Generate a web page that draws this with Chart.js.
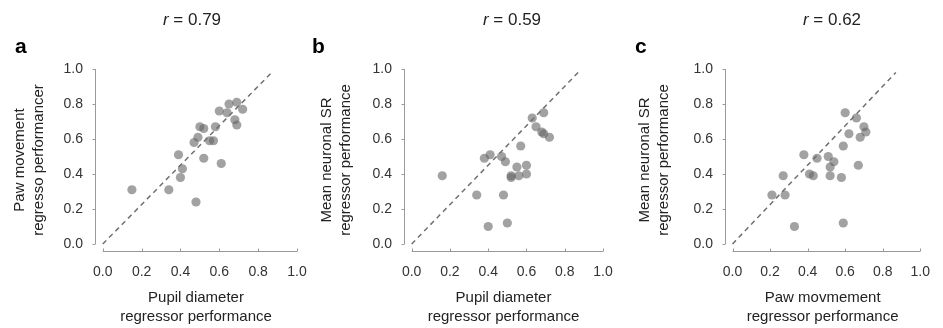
<!DOCTYPE html>
<html>
<head>
<meta charset="utf-8">
<script src="https://cdn.jsdelivr.net/npm/chart.js@4.4.1/dist/chart.umd.min.js"></script>
<style>
    html, body { margin: 0; padding: 0; background: #fff; }
    #wrap { position: relative; width: 943px; height: 328px; }
    #wrap canvas { position: absolute; left: 0; top: 0; }
</style>
</head>
<body>
<div id="wrap">
    <canvas id="chartA" width="943" height="328"></canvas>
    <canvas id="chartB" width="943" height="328"></canvas>
    <canvas id="chartC" width="943" height="328"></canvas>
</div>
<script>
// Panel a: pupil diameter vs paw movement
const pupilA = [0.15, 0.34, 0.48, 0.39, 0.41, 0.40, 0.47, 0.49, 0.50, 0.52, 0.52, 0.55, 0.57, 0.58, 0.61, 0.60, 0.64, 0.65, 0.69, 0.68, 0.69, 0.72];
const pawA   = [0.31, 0.31, 0.24, 0.51, 0.43, 0.38, 0.58, 0.61, 0.67, 0.66, 0.49, 0.59, 0.59, 0.67, 0.46, 0.76, 0.75, 0.80, 0.81, 0.71, 0.68, 0.77];

// Panel b: pupil diameter vs mean neuronal SR
const pupilB = [0.16, 0.34, 0.40, 0.38, 0.41, 0.47, 0.49, 0.48, 0.50, 0.52, 0.52, 0.55, 0.56, 0.57, 0.60, 0.60, 0.63, 0.65, 0.68, 0.69, 0.69, 0.72];
const srB    = [0.39, 0.28, 0.10, 0.49, 0.51, 0.50, 0.47, 0.28, 0.12, 0.39, 0.38, 0.44, 0.39, 0.56, 0.45, 0.40, 0.72, 0.67, 0.64, 0.63, 0.75, 0.61];

// Panel c: paw movement vs mean neuronal SR
const pawC = [0.21, 0.27, 0.28, 0.33, 0.38, 0.41, 0.43, 0.45, 0.51, 0.52, 0.54, 0.52, 0.58, 0.59, 0.59, 0.60, 0.62, 0.66, 0.67, 0.68, 0.70, 0.71];
const srC  = [0.28, 0.39, 0.28, 0.10, 0.51, 0.40, 0.39, 0.49, 0.50, 0.44, 0.47, 0.39, 0.38, 0.56, 0.12, 0.75, 0.63, 0.72, 0.45, 0.61, 0.67, 0.64];

// Dashed reference line (same in every panel)
const diagX = [0, 0.87];
const diagY = [0, 0.98];

const tickValues = [0, 0.2, 0.4, 0.6, 0.8, 1.0];
const panelLetters = ['a', 'b', 'c'];
const rValues = ['0.79', '0.59', '0.62'];

function toPoints(xs, ys) {
    return xs.map((x, i) => ({ x: x, y: ys[i] }));
}

// Axis lines only span 0..1, with small tick marks, like the original
const axisLines = {
    id: 'axisLines',
    afterDraw(chart, args, opts) {
        const ctx = chart.ctx;
        const xs = chart.scales.x;
        const ys = chart.scales.y;
        const left = chart.chartArea.left;
        const bottom = chart.chartArea.bottom;
        ctx.save();
        ctx.strokeStyle = '#9a9a9a';
        ctx.lineWidth = 1;
        ctx.beginPath();
        ctx.moveTo(left + 0.5, ys.getPixelForValue(0));
        ctx.lineTo(left + 0.5, ys.getPixelForValue(1));
        tickValues.forEach(v => {
            const py = Math.round(ys.getPixelForValue(v)) + 0.5;
            ctx.moveTo(left + 0.5, py);
            ctx.lineTo(left - 2.5, py);
        });
        ctx.moveTo(xs.getPixelForValue(0), bottom + 0.5);
        ctx.lineTo(xs.getPixelForValue(1), bottom + 0.5);
        tickValues.forEach(v => {
            const px = Math.round(xs.getPixelForValue(v)) + 0.5;
            ctx.moveTo(px, bottom + 0.5);
            ctx.lineTo(px, bottom - 2.5);
        });
        ctx.stroke();

        // panel letter and r value
        ctx.fillStyle = '#000';
        ctx.textBaseline = 'alphabetic';
        ctx.textAlign = 'left';
        ctx.font = 'bold 21px "Liberation Sans", Arial, sans-serif';
        ctx.fillText(opts.letter, opts.letterX, 53);

        ctx.fillStyle = '#222';
        ctx.font = 'italic 17px "Liberation Sans", Arial, sans-serif';
        const rW = ctx.measureText('r').width;
        ctx.font = '17px "Liberation Sans", Arial, sans-serif';
        const rest = ' = ' + opts.r;
        const restW = ctx.measureText(rest).width;
        const start = opts.titleX - (rW + restW) / 2;
        ctx.font = 'italic 17px "Liberation Sans", Arial, sans-serif';
        ctx.fillText('r', start, 25);
        ctx.font = '17px "Liberation Sans", Arial, sans-serif';
        ctx.fillText(rest, start + rW, 25);
        ctx.restore();
    }
};

function makeChart(id, idx, xs, ys, xTitle, yTitle, padLeft, yWidth, padRight, letterX, titleX) {
    const ctx = document.getElementById(id).getContext('2d');
    return new Chart(ctx, {
        type: 'scatter',
        data: {
            datasets: [
                {
                    label: 'diagonal',
                    type: 'line',
                    data: toPoints(diagX, diagY),
                    borderColor: '#707070',
                    borderWidth: 1.5,
                    borderDash: [5, 4],
                    pointRadius: 0,
                    fill: false
                },
                {
                    label: 'sessions',
                    data: toPoints(xs, ys),
                    backgroundColor: 'rgba(100, 100, 100, 0.6)',
                    borderWidth: 0,
                    pointRadius: 4.6,
                    pointHoverRadius: 4.6
                }
            ]
        },
        options: {
            responsive: false,
            animation: false,
            events: [],
            layout: {
                padding: { left: padLeft, right: padRight, top: 69, bottom: 0 }
            },
            plugins: {
                legend: { display: false },
                tooltip: { enabled: false },
                axisLines: { letter: panelLetters[idx], r: rValues[idx], letterX: letterX, titleX: titleX }
            },
            scales: {
                x: {
                    type: 'linear',
                    min: -0.04,
                    max: 1.0,
                    grid: { display: false, drawTicks: false },
                    border: { display: false },
                    afterBuildTicks: s => { s.ticks = tickValues.map(v => ({ value: v })); },
                    afterFit: s => { s.height = 77; },
                    ticks: {
                        padding: 13,
                        color: '#333',
                        font: { family: '"Liberation Sans", Arial, sans-serif', size: 14 },
                        callback: v => v.toFixed(1)
                    },
                    title: {
                        display: true,
                        text: xTitle,
                        color: '#222',
                        font: { family: '"Liberation Sans", Arial, sans-serif', size: 15, lineHeight: 1.3 },
                        padding: { top: 2, bottom: 1 }
                    }
                },
                y: {
                    type: 'linear',
                    min: -0.04,
                    max: 1.0,
                    grid: { display: false, drawTicks: false },
                    border: { display: false },
                    afterBuildTicks: s => { s.ticks = tickValues.map(v => ({ value: v })); },
                    afterFit: s => { s.width = yWidth; },
                    ticks: {
                        padding: 12,
                        color: '#333',
                        font: { family: '"Liberation Sans", Arial, sans-serif', size: 14 },
                        callback: v => v.toFixed(1)
                    },
                    title: {
                        display: true,
                        text: yTitle,
                        color: '#222',
                        font: { family: '"Liberation Sans", Arial, sans-serif', size: 15, lineHeight: 1.3 },
                        padding: { top: 4, bottom: 0 }
                    }
                }
            }
        },
        plugins: [axisLines]
    });
}

makeChart('chartA', 0, pupilA, pawA,
    ['Pupil diameter', 'regressor performance'],
    ['Paw movement', 'regresso performancer'],
    6, 89, 646, 15, 192);

makeChart('chartB', 1, pupilB, srB,
    ['Pupil diameter', 'regressor performance'],
    ['Mean neuronal SR', 'regressor performance'],
    313, 91, 340, 312, 512);

makeChart('chartC', 2, pawC, srC,
    ['Paw movmement', 'regressor performance'],
    ['Mean neuronal SR', 'regressor performance'],
    631, 94, 17, 635, 832);
</script>
</body>
</html>
